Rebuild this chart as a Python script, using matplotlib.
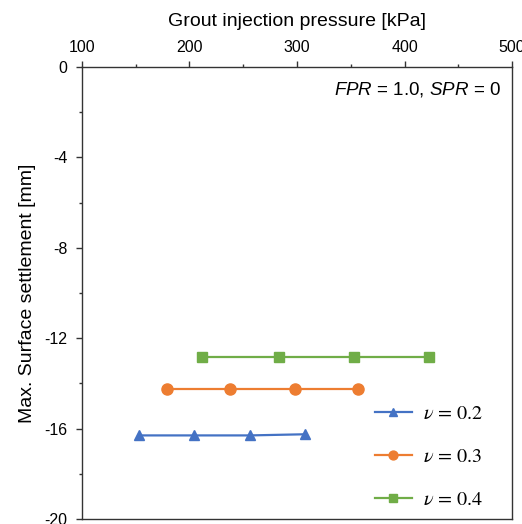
import matplotlib
matplotlib.use("Agg")
import matplotlib.pyplot as plt
from matplotlib.ticker import MultipleLocator

plt.rcParams["font.family"] = ["Liberation Sans", "DejaVu Sans"]
plt.rcParams["mathtext.fontset"] = "stix"
plt.rcParams["mathtext.rm"] = "Liberation Sans"
plt.rcParams["mathtext.it"] = "Liberation Sans:italic"
plt.rcParams["axes.unicode_minus"] = False

# grout injection pressure [kPa] and max. surface settlement [mm]
x_nu02 = [153, 204, 256, 307]
y_nu02 = [-16.3, -16.3, -16.3, -16.25]
x_nu03 = [179, 238, 298, 357]
y_nu03 = [-14.25, -14.25, -14.25, -14.25]
x_nu04 = [212, 283, 353, 423]
y_nu04 = [-12.85, -12.85, -12.85, -12.85]
labels = [r"$\nu\,=\,0.2$", r"$\nu\,=\,0.3$", r"$\nu\,=\,0.4$"]

fig = plt.figure(figsize=(5.22, 5.24), dpi=100)
ax = fig.add_axes([0.157, 0.0095, 0.824, 0.8625])

ax.plot(x_nu02, y_nu02, "-^", color="#4472C4", lw=1.6, ms=7.5, label=labels[0])
ax.plot(x_nu03, y_nu03, "-o", color="#ED7D31", lw=1.6, ms=8, label=labels[1])
ax.plot(x_nu04, y_nu04, "-s", color="#70AD47", lw=1.6, ms=7, label=labels[2])

ax.set_xlim(100, 500)
ax.set_ylim(-20, 0)
ax.xaxis.set_major_locator(MultipleLocator(100))
ax.xaxis.set_minor_locator(MultipleLocator(50))
ax.yaxis.set_major_locator(MultipleLocator(4))
ax.yaxis.set_minor_locator(MultipleLocator(2))
ax.xaxis.tick_top()
ax.xaxis.set_label_position("top")
ax.tick_params(which="major", direction="out", length=4.5, width=1, labelsize=11.5,
               color="#333333", pad=4)
ax.tick_params(which="minor", direction="out", length=2.5, width=1, color="#333333")
ax.tick_params(axis="y", which="major", pad=6)
for s in ax.spines.values():
    s.set_color("#333333")
    s.set_linewidth(1.0)

ax.set_xlabel("Grout injection pressure [kPa]", fontsize=14, labelpad=10)
ax.set_ylabel("Max. Surface settlement [mm]", fontsize=14, labelpad=6)

ax.text(0.975, 0.972, r"$FPR$ = 1.0, $SPR$ = 0", transform=ax.transAxes,
        ha="right", va="top", fontsize=13.5, math_fontfamily="custom")

ax.legend(loc="lower left", bbox_to_anchor=(0.64, -0.018), frameon=False,
          fontsize=14.5, labelspacing=1.2, handlelength=1.8, handletextpad=0.55,
          markerscale=0.8)

fig.savefig("out.png", dpi=100)
